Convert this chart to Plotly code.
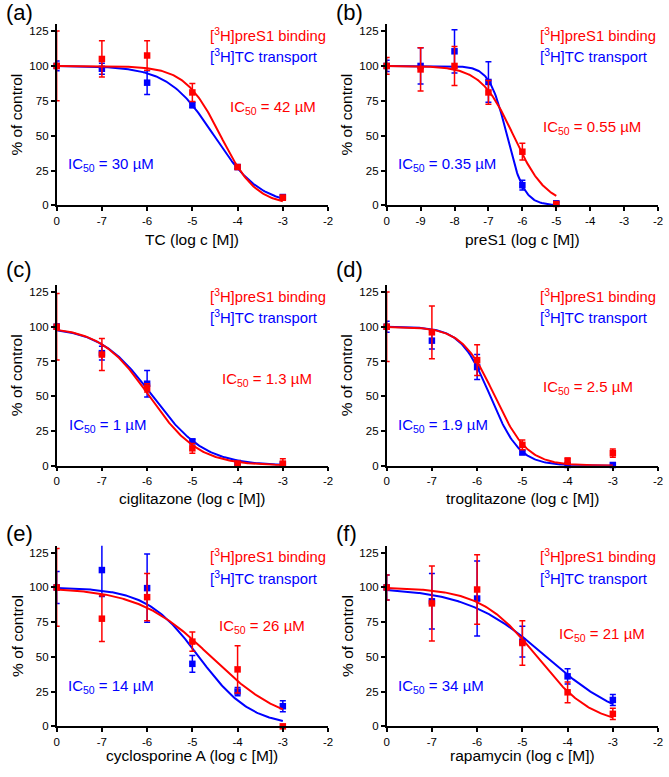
import numpy as np
import plotly.graph_objects as go

W, H = 669, 777
RED = "#ff0000"
BLUE = "#0000ff"
FONT = "Liberation Sans, Arial, sans-serif"

# ---- data ----
panel_letters = ["(a)", "(b)", "(c)", "(d)", "(e)", "(f)"]
x_titles = ["TC (log c [M])", "preS1 (log c [M])", "ciglitazone (log c [M])",
            "troglitazone (log c [M])", "cyclosporine A (log c [M])", "rapamycin (log c [M])"]

# log concentration; the control ("0") is placed one decade left of the lowest dose
x_tc = [-8, -7, -6, -5, -4, -3]
x_pres1 = [-10, -9, -8, -7, -6, -5]

tickvals_tc = [-8, -7, -6, -5, -4, -3, -2]
ticktext_tc = ["0", "-7", "-6", "-5", "-4", "-3", "-2"]
tickvals_pres1 = [-10, -9, -8, -7, -6, -5, -4, -3, -2]
ticktext_pres1 = ["0", "-9", "-8", "-7", "-6", "-5", "-4", "-3", "-2"]
yticks = [0, 25, 50, 75, 100, 125]

a_red = [100, 105, 107.5, 81, 27.5, 5.5]
a_red_err = [25, 13, 10.5, 6.5, 1.2, 1.8]
a_blue = [100, 98, 88, 72, 27.5, 6]
a_blue_err = [3.5, 4, 8.5, 2, 1, 1.5]

b_red = [100, 97.5, 100, 81, 38.5, 1]
b_red_err = [6, 15.5, 14, 8.5, 6, 1]
b_blue = [100, 100, 110.5, 88.5, 14.5, 1.5]
b_blue_err = [4, 13, 15.5, 14.5, 3.5, 1]

c_red = [100, 80, 56, 12.5, 1.5, 1.5]
c_red_err = [24, 11.5, 3, 3.5, 1.5, 3.5]
c_blue = [100, 81, 59, 17.5, 2, 1]
c_blue_err = [2, 5, 9.5, 1.5, 1, 1]

d_red = [100, 96, 76, 15, 3.5, 9]
d_red_err = [25, 19, 11, 3.5, 2, 3]
d_blue = [100, 90, 71, 9.5, 0.5, 0.5]
d_blue_err = [4, 6, 9, 1.5, 1, 0.5]

e_red = [100, 77.5, 93, 61, 41, 0]
e_red_err = [28, 16.5, 17, 7, 17, 0.5]
e_blue = [100, 112.5, 99.5, 45, 25, 14.5]
e_blue_err = [11.5, 19, 24.5, 6, 3, 4]

f_red = [100, 88.5, 98.5, 60, 24.5, 9]
f_red_err = [9, 27, 25, 16, 7.5, 4]
f_blue = [100, 90, 92, 61, 36, 19]
f_blue_err = [9, 20, 27, 11, 5.5, 4]

# fitted sigmoid parameters (log IC50, Hill slope)
red_log_ic50 = [-4.377, -6.26, -5.95, -5.61, -4.585, -4.678]
red_hill = [1.1, 0.9, 0.8, 1.2, 0.54, 0.70]
blue_log_ic50 = [-4.52, -6.456, -5.88, -5.71, -4.854, -4.469]
blue_hill = [0.85, 1.72, 0.75, 1.34, 0.75, 0.49]

red_ic50_text = ["42 µM", "0.55 µM", "1.3 µM", "2.5 µM", "26 µM", "21 µM"]
blue_ic50_text = ["30 µM", "0.35 µM", "1 µM", "1.9 µM", "14 µM", "34 µM"]

reds = [a_red, b_red, c_red, d_red, e_red, f_red]
red_errs = [a_red_err, b_red_err, c_red_err, d_red_err, e_red_err, f_red_err]
blues = [a_blue, b_blue, c_blue, d_blue, e_blue, f_blue]
blue_errs = [a_blue_err, b_blue_err, c_blue_err, d_blue_err, e_blue_err, f_blue_err]
xs = [x_tc, x_pres1, x_tc, x_tc, x_tc, x_tc]

# ---- layout geometry (pixels) ----
col_x = [(54.3, 329.0), (388.3, 663.0)]
row_y = [(24.3, 207.0), (287.3, 469.3), (550.0, 732.0)]
red_ic_pos = [(273, 108), (596, 128), (267, 382.7), (592, 391), (262, 631.7), (606, 639)]
blue_ic_pos = [(109.5, 166), (449.5, 166), (105.5, 429), (445.5, 429), (109.5, 691.7), (443.5, 691.7)]

def px(x):
    return x / W

def py(y):
    return 1 - y / H

def hill(x, logic50, h):
    x = np.asarray(x, dtype=float)
    return 100.0 / (1.0 + 10.0 ** ((x - logic50) * h))

fig = go.Figure()
annotations = []

for i in range(6):
    r, c = divmod(i, 2)
    n = i + 1
    xa = "x" if n == 1 else f"x{n}"
    ya = "y" if n == 1 else f"y{n}"
    xk = "xaxis" if n == 1 else f"xaxis{n}"
    yk = "yaxis" if n == 1 else f"yaxis{n}"
    x0, x1 = col_x[c]
    yt, yb = row_y[r]
    xvals = xs[i]
    if i == 1:
        tv, tt, xr = tickvals_pres1, ticktext_pres1, [-10, -2]
    else:
        tv, tt, xr = tickvals_tc, ticktext_tc, [-8, -2]

    xc = np.linspace(xvals[0], xvals[-1], 200)
    for vals, errs, lic, hl, col in [
        (blues[i], blue_errs[i], blue_log_ic50[i], blue_hill[i], BLUE),
        (reds[i], red_errs[i], red_log_ic50[i], red_hill[i], RED),
    ]:
        fig.add_trace(go.Scatter(
            x=xc, y=hill(xc, lic, hl), mode="lines",
            line=dict(color=col, width=2), xaxis=xa, yaxis=ya,
            showlegend=False, hoverinfo="skip", cliponaxis=False))
        fig.add_trace(go.Scatter(
            x=xvals, y=vals, mode="markers",
            marker=dict(symbol="square", size=6.5, color=col),
            error_y=dict(type="data", array=errs, visible=True,
                         color=col, thickness=1.5, width=3),
            xaxis=xa, yaxis=ya, showlegend=False, cliponaxis=False))

    axis_common = dict(showline=True, linecolor="black", linewidth=1.6,
                       ticks="outside", ticklen=4, tickwidth=1.5, tickcolor="black",
                       showgrid=False, zeroline=False,
                       tickfont=dict(family=FONT, size=11.5, color="black"))
    fig.layout[xk] = dict(domain=[px(x0), px(x1)], range=xr, tickvals=tv,
                          ticktext=tt, anchor=ya, **axis_common)
    fig.layout[yk] = dict(domain=[py(yb), py(yt)], range=[0, 130], tickvals=yticks,
                          anchor=xa, **axis_common)

    # panel letter
    annotations.append(dict(x=px(c * 334 + 1), y=py([13, 272, 538][r]),
                            xref="paper", yref="paper", text=panel_letters[i],
                            showarrow=False, xanchor="left", yanchor="middle",
                            font=dict(family=FONT, size=22, color="black")))
    # axis titles
    xt_y = [241.0, 502.5, 761.0][r]
    annotations.append(dict(x=px((x0 + x1) / 2), y=py(xt_y), xref="paper", yref="paper",
                            text=x_titles[i], showarrow=False, xanchor="center",
                            yanchor="middle", font=dict(family=FONT, size=15.5, color="black")))
    annotations.append(dict(x=px(c * 334 + 14), y=py((yt + yb) / 2), xref="paper",
                            yref="paper", text="% of control", textangle=-90,
                            showarrow=False, xanchor="center", yanchor="middle",
                            font=dict(family=FONT, size=15.5, color="black")))
    # legend-like texts
    ly1 = yt + 10.5
    ly2 = yt + 32.5
    annotations.append(dict(x=px(x0 + 153.5), y=py(ly1), xref="paper", yref="paper",
                            text="[<sup>3</sup>H]preS1 binding", showarrow=False,
                            xanchor="left", yanchor="middle",
                            font=dict(family=FONT, size=14.8, color=RED)))
    annotations.append(dict(x=px(x0 + 153.5), y=py(ly2), xref="paper", yref="paper",
                            text="[<sup>3</sup>H]TC transport", showarrow=False,
                            xanchor="left", yanchor="middle",
                            font=dict(family=FONT, size=14.8, color=BLUE)))
    # IC50 texts
    rx, ry = red_ic_pos[i]
    bx, by = blue_ic_pos[i]
    annotations.append(dict(x=px(rx), y=py(ry), xref="paper", yref="paper",
                            text="IC<sub>50</sub> = " + red_ic50_text[i], showarrow=False,
                            xanchor="center", yanchor="middle",
                            font=dict(family=FONT, size=15, color=RED)))
    annotations.append(dict(x=px(bx), y=py(by), xref="paper", yref="paper",
                            text="IC<sub>50</sub> = " + blue_ic50_text[i], showarrow=False,
                            xanchor="center", yanchor="middle",
                            font=dict(family=FONT, size=15, color=BLUE)))

fig.update_layout(width=W, height=H, margin=dict(l=0, r=0, t=0, b=0),
                  paper_bgcolor="white", plot_bgcolor="white",
                  annotations=annotations, showlegend=False)
fig.write_html("out.html", config={"displayModeBar": False},
               post_script="document.body.style.margin='0';document.body.style.overflow='hidden';")
